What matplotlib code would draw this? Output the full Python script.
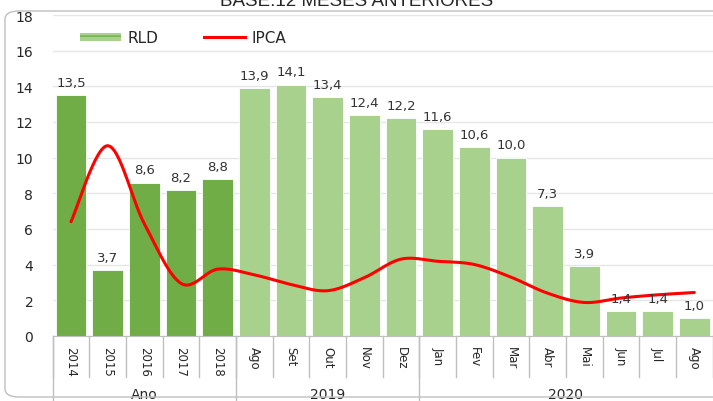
import numpy as np
import matplotlib
matplotlib.use("Agg")
import matplotlib.pyplot as plt
from matplotlib.patches import FancyBboxPatch, Patch
from matplotlib.lines import Line2D

# data (12-month accumulated, %)
categories = ["2014", "2015", "2016", "2017", "2018",
              "Ago", "Set", "Out", "Nov", "Dez",
              "Jan", "Fev", "Mar", "Abr", "Mai", "Jun", "Jul", "Ago"]
groups = ["Ano", "2019", "2020"]
group_sizes = [5, 5, 8]
rld = [13.5, 3.7, 8.6, 8.2, 8.8,
       13.9, 14.1, 13.4, 12.4, 12.2,
       11.6, 10.6, 10.0, 7.3, 3.9, 1.4, 1.4, 1.0]
ipca = [6.41, 10.67, 6.29, 2.95, 3.75,
        3.43, 2.89, 2.54, 3.27, 4.31,
        4.19, 4.01, 3.30, 2.40, 1.88, 2.13, 2.31, 2.44]

DARK_GREEN = "#70AD47"
LIGHT_GREEN = "#A9D18E"
TEXT = "#333333"


def smooth_curve(xs, ys, n=30):
    # Catmull-Rom style smoothing (like Excel's smoothed line)
    xs = np.asarray(xs, float)
    ys = np.asarray(ys, float)
    px = np.concatenate([[xs[0]], xs, [xs[-1]]])
    py = np.concatenate([[ys[0]], ys, [ys[-1]]])
    out_x, out_y = [], []
    t = np.linspace(0, 1, n)
    for i in range(1, len(px) - 2):
        p0x, p1x, p2x, p3x = px[i - 1], px[i], px[i + 1], px[i + 2]
        p0y, p1y, p2y, p3y = py[i - 1], py[i], py[i + 1], py[i + 2]
        c1x, c1y = p1x + (p2x - p0x) / 6, p1y + (p2y - p0y) / 6
        c2x, c2y = p2x - (p3x - p1x) / 6, p2y - (p3y - p1y) / 6
        bx = (1 - t) ** 3 * p1x + 3 * (1 - t) ** 2 * t * c1x + 3 * (1 - t) * t ** 2 * c2x + t ** 3 * p2x
        by = (1 - t) ** 3 * p1y + 3 * (1 - t) ** 2 * t * c1y + 3 * (1 - t) * t ** 2 * c2y + t ** 3 * p2y
        out_x.extend(bx)
        out_y.extend(by)
    return np.array(out_x), np.array(out_y)


fig = plt.figure(figsize=(7.13, 4.02), dpi=100)
fig.patch.set_facecolor("white")

# rounded chart border
border = FancyBboxPatch((5 / 713, 4 / 402), 740 / 713, 386 / 402,
                        boxstyle="round,pad=0,rounding_size=0.02",
                        transform=fig.transFigure, facecolor="none",
                        edgecolor="#BFBFBF", linewidth=1.0)
fig.patches.append(border)

# title is partly outside the image in the original
fig.text(0.5, 1 - 6 / 402, "BASE:12 MESES ANTERIORES", ha="center", va="baseline",
         fontsize=13.5, color="#262626", family="Liberation Sans")

ax = fig.add_axes([52.7 / 713, 65 / 402, 659.9 / 713, 321 / 402])
x = np.arange(len(categories))
colors = [DARK_GREEN] * group_sizes[0] + [LIGHT_GREEN] * (len(categories) - group_sizes[0])
ax.bar(x, rld, width=0.84, color=colors, edgecolor="white", linewidth=0.6, zorder=2)

for xi, v in zip(x, rld):
    ax.text(xi, v + 0.35, f"{v:.1f}".replace(".", ","), ha="center", va="bottom",
            fontsize=9.5, color=TEXT, zorder=4)

sx, sy = smooth_curve(x, ipca)
ax.plot(sx, sy, color="#FF0000", linewidth=2.2, zorder=3, solid_capstyle="round")

ax.set_xlim(-0.5, len(categories) - 0.5)
ax.set_ylim(0, 18)
ax.set_yticks(np.arange(0, 19, 2))
ax.yaxis.grid(True, color="#E6E6E6", linewidth=1.0, zorder=0)
ax.set_axisbelow(True)
for s in ["top", "right", "left"]:
    ax.spines[s].set_visible(False)
ax.spines["bottom"].set_color("#BFBFBF")
ax.tick_params(axis="y", length=0, pad=14, labelsize=10, labelcolor="#262626")
ax.set_xticks(x)
ax.set_xticklabels(categories, rotation=-90, fontsize=8.5, color="#262626")
ax.tick_params(axis="x", length=0, pad=7)

# multi-level category dividers
tr = ax.get_xaxis_transform()
for b in np.arange(-0.5, len(categories) + 0.5, 1.0):
    ax.plot([b, b], [0, -0.128], color="#BFBFBF", linewidth=1.0, transform=tr, clip_on=False)
start = -0.5
for g, n in zip(groups, group_sizes):
    ax.plot([start, start], [0, -0.21], color="#BFBFBF", linewidth=1.0, transform=tr, clip_on=False)
    ax.text(start + n / 2, -0.18, g, ha="center", va="center", fontsize=10,
            color="#262626", transform=tr)
    start += n

handles = [Patch(facecolor=LIGHT_GREEN, edgecolor=DARK_GREEN, hatch="---", linewidth=0),
           Line2D([0], [0], color="#FF0000", linewidth=2.2)]
leg = ax.legend(handles, ["RLD", "IPCA"], loc="upper left", bbox_to_anchor=(0.02, 0.995),
                ncol=2, frameon=False, fontsize=11, handlelength=2.7, handleheight=0.5,
                columnspacing=3.0, handletextpad=0.4)
for t in leg.get_texts():
    t.set_color("#262626")

fig.savefig("out.png", dpi=100)
